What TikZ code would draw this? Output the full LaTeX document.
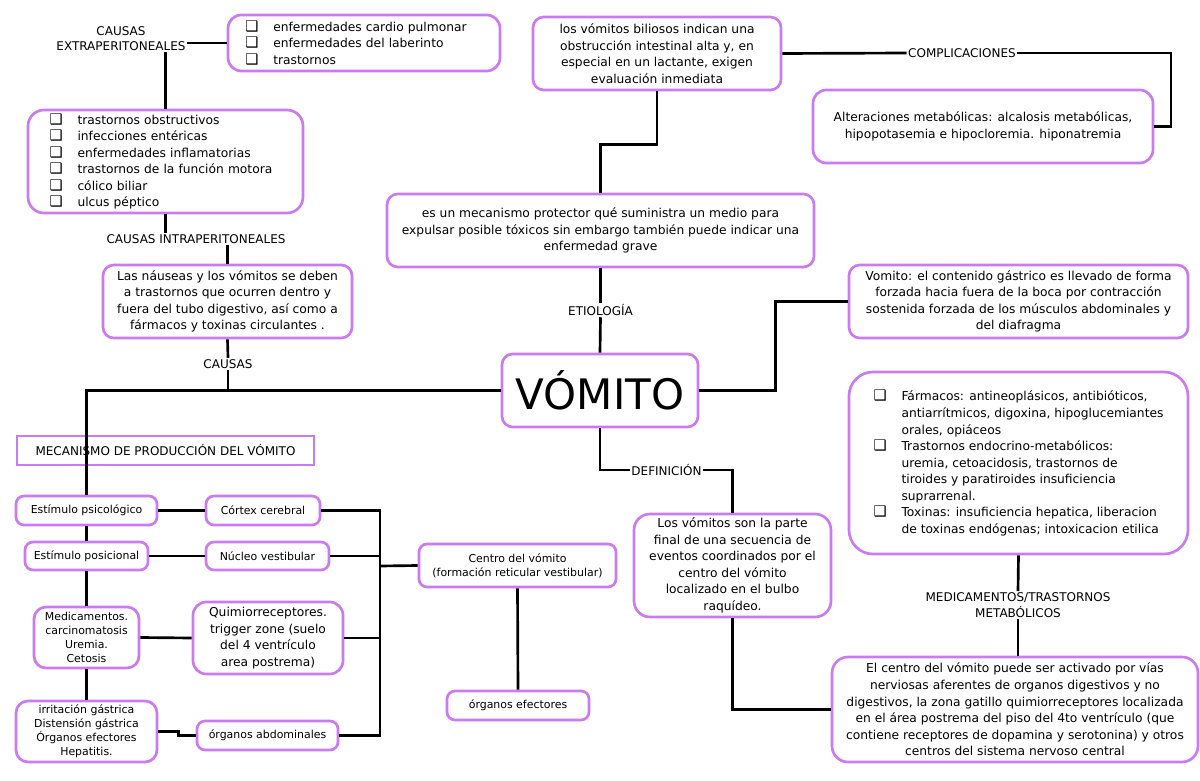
\documentclass[tikz,border=0pt]{standalone}
\usepackage{fontspec}
\setmainfont{DejaVu Sans}
\usepackage{tikz}
\usetikzlibrary{positioning, calc}
\definecolor{lilac}  {HTML}{C97BEF}
\definecolor{linkcol}{HTML}{000000}
\newcommand{\bx}{\makebox[21pt][l]{\fontsize{11}{11}\selectfont ❑}}
\newcommand{\bxcont}{\hspace*{21pt}}
\tikzset{
  mapbox/.style={
    rectangle, rounded corners=8pt,
    draw=lilac, fill=white, line width=2pt,
    align=center, inner sep=2pt,
    font=\fontsize{9.2}{12.4}\selectfont
  },
  listbox/.style={mapbox, align=left, rounded corners=#1},
  listbox/.default=10pt,
  smallbox/.style={mapbox, rounded corners=6pt,
    font=\fontsize{8.2}{10.5}\selectfont},
  titlebox/.style={mapbox, rounded corners=0pt,
    font=\fontsize{9}{11}\selectfont},
  linklabel/.style={font=\fontsize{9}{11.5}\selectfont,
    inner sep=1pt, align=center},
  link/.style={line width=2pt, draw=linkcol},
  boxsize/.style 2 args={minimum width=#1*0.75pt, minimum height=#2*0.75pt}
}

\begin{document}
\begin{tikzpicture}[x=0.75pt, y=-0.75pt]

  \fill[white] (0,0) rectangle (1200,781);
  \useasboundingbox (0,0) rectangle (1200,781);

  % left branch: causes
  \node[linklabel] (lblExtra) at (121,38.5) {CAUSAS\\EXTRAPERITONEALES};
  \node[listbox, boxsize={272}{56}, inner xsep=12.75pt, text width=178pt]
    (extra) at (364,43) {%
    \bx enfermedades cardio pulmonar\\
    \bx enfermedades del laberinto\\
    \bx trastornos};
  \node[listbox=12pt, boxsize={275}{103}, inner xsep=16pt, text width=174pt]
    (intra) at (165.5,161.5) {%
    \bx trastornos obstructivos\\
    \bx infecciones entéricas\\
    \bx enfermedades inflamatorias\\
    \bx trastornos de la función motora\\
    \bx cólico biliar\\
    \bx ulcus péptico};
  \node[linklabel] (lblIntra) at (196,239) {CAUSAS INTRAPERITONEALES};
  \node[mapbox, boxsize={249}{73}] (causas) at (227.5,301.5) {%
    Las náuseas y los vómitos se deben\\
    a trastornos que ocurren dentro y\\
    fuera del tubo digestivo, así como a\\
    fármacos y toxinas circulantes .};
  \node[linklabel] (lblCausas) at (228,364) {CAUSAS};

  % centre
  \node[mapbox, boxsize={196}{73},
        font=\fontsize{31.5}{34}\selectfont] (vomito) at (600,390.5) {VÓMITO};
  \node[mapbox, boxsize={427}{73}] (protect) at (600.5,230.5) {%
    es un mecanismo protector qué suministra un medio para\\
    expulsar posible tóxicos sin embargo también puede indicar una\\
    enfermedad grave};
  \node[linklabel] (lblEtio) at (600.5,310) {ETIOLOGÍA};
  \node[mapbox, boxsize={248}{73}] (bilis) at (657,53.5) {%
    los vómitos biliosos indican una\\
    obstrucción intestinal alta y, en\\
    especial en un lactante, exigen\\
    evaluación inmediata};
  \node[linklabel] (lblCompl) at (962,53) {COMPLICACIONES};
  \node[mapbox, boxsize={340}{73}, rounded corners=10pt] (alter) at (983,126.5) {%
    Alteraciones metabólicas: alcalosis metabólicas,\\
    hipopotasemia e hipocloremia. hiponatremia};

  % right branch
  \node[mapbox, boxsize={339}{73}] (vdef) at (1018.5,301.5) {%
    Vomito: el contenido gástrico es llevado de forma\\
    forzada hacia fuera de la boca por contracción\\
    sostenida forzada de los músculos abdominales y\\
    del diafragma};
  \node[listbox=18pt, boxsize={339}{182}] (farmacos) at (1018.5,463) {%
    \bx Fármacos: antineoplásicos, antibióticos,\\
    \bxcont antiarrítmicos, digoxina, hipoglucemiantes\\
    \bxcont orales, opiáceos\\
    \bx Trastornos endocrino-metabólicos:\\
    \bxcont uremia, cetoacidosis, trastornos de\\
    \bxcont tiroides y paratiroides insuficiencia\\
    \bxcont suprarrenal.\\
    \bx Toxinas: insuficiencia hepatica, liberacion\\
    \bxcont de toxinas endógenas; intoxicacion etilica};
  \node[linklabel] (lblMed) at (1018,605) {MEDICAMENTOS/TRASTORNOS\\METABÓLICOS};
  \node[mapbox, boxsize={366}{105}, rounded corners=12pt] (activa) at (1015,709.5) {%
    El centro del vómito puede ser activado por vías\\
    nerviosas aferentes de organos digestivos y no\\
    digestivos, la zona gatillo quimiorreceptores localizada\\
    en el área postrema del piso del 4to ventrículo (que\\
    contiene receptores de dopamina y serotonina) y otros\\
    centros del sistema nervoso central};
  \node[linklabel] (lblDef) at (666.5,470) {DEFINICIÓN};
  \node[mapbox, boxsize={197}{103}, rounded corners=12pt] (defin) at (732.5,565.5) {%
    Los vómitos son la parte\\
    final de una secuencia de\\
    eventos coordinados por el\\
    centro del vómito\\
    localizado en el bulbo\\
    raquídeo.};

  % mechanism
  \node[titlebox, boxsize={297}{29}] (mecan) at (165.5,450.5)
    {MECANISMO DE PRODUCCIÓN DEL VÓMITO};
  \node[smallbox, boxsize={141}{29}] (psico)  at (86.5,510.5) {Estímulo psicológico};
  \node[smallbox, boxsize={114}{29}] (cortex) at (263,510.5)  {Córtex cerebral};
  \node[smallbox, boxsize={123}{28}] (posic)  at (86.5,556)   {Estímulo posicional};
  \node[smallbox, boxsize={123}{28}] (nucleo) at (267.5,556)  {Núcleo vestibular};
  \node[smallbox, boxsize={105}{61}, rounded corners=9pt] (medic) at (86.5,637.5)
    {Medicamentos.\\ carcinomatosis\\ Uremia.\\ Cetosis};
  \node[mapbox, boxsize={150}{72}, rounded corners=10pt] (quimio) at (268,638)
    {Quimiorreceptores.\\ trigger zone (suelo\\ del 4 ventrículo\\ area postrema)};
  \node[smallbox, boxsize={141}{61}, rounded corners=9pt] (irrit) at (86.5,731.5)
    {irritación gástrica\\ Distensión gástrica\\ Órganos efectores\\ Hepatitis.};
  \node[smallbox, boxsize={141}{29}] (abdom) at (267.5,735.5) {órganos abdominales};
  \node[smallbox, boxsize={197}{43}] (centro) at (517.5,565.5)
    {Centro del vómito\\ (formación reticular vestibular)};
  \node[smallbox, boxsize={142}{29}] (efect) at (518,705.5) {órganos efectores};
  \coordinate (bus) at (380,566);
  \coordinate (complTurn) at (1171,53);

  % connectors
  \draw[link] (lblExtra.east |- extra.west) -- (extra.west);
  \draw[link] (lblExtra.south -| intra.north) -- (intra.north);
  \draw[link] (intra.south) -- (intra.south |- lblIntra.north);
  \draw[link] (lblIntra.south -| causas.north) -- (causas.north);
  \draw[link] (causas.south) -- (lblCausas.north);
  \draw[link] (lblCausas.south) -- (lblCausas.south |- vomito.west);
  \draw[link] (vomito.west) -| (psico.north);
  \draw[link] (vomito.north) -- (lblEtio.south);
  \draw[link] (lblEtio.north) -- (protect.south);
  \draw[link] (bilis.south) -- ++(0,53) -| (protect.north);
  \draw[link] (bilis.east) -- (lblCompl.west);
  \draw[link] (lblCompl.east) -- (complTurn) |- (alter.east);
  \draw[link] (vomito.east) -- ++(76,0) |- (vdef.west);
  \draw[link] (vomito.south) |- (lblDef.west);
  \draw[link] (lblDef.east) -| (defin.north);
  \draw[link] (defin.south) |- (activa.west);
  \draw[link] (farmacos.south) -- (lblMed.north);
  \draw[link] (lblMed.south) -- (lblMed.south |- activa.north);

  \foreach \a/\b in {psico/posic, posic/medic, medic/irrit}{
    \draw[link] (\a.south) -- (\b.north);
  }
  \foreach \a/\b in {psico/cortex, posic/nucleo, medic/quimio}{
    \draw[link] (\a.east) -- (\b.west);
  }
  \draw[link] (irrit.east) -- ++(20,0) |- (abdom.west);
  \draw[link] (cortex.east) -| (bus) |- (abdom.east);
  \draw[link] (nucleo.east) -- (nucleo.east -| bus);
  \draw[link] (quimio.east) -- (quimio.east -| bus);
  \draw[link] (bus) -- (centro.west);
  \draw[link] (centro.south) -- (efect.north);

\end{tikzpicture}
\end{document}
